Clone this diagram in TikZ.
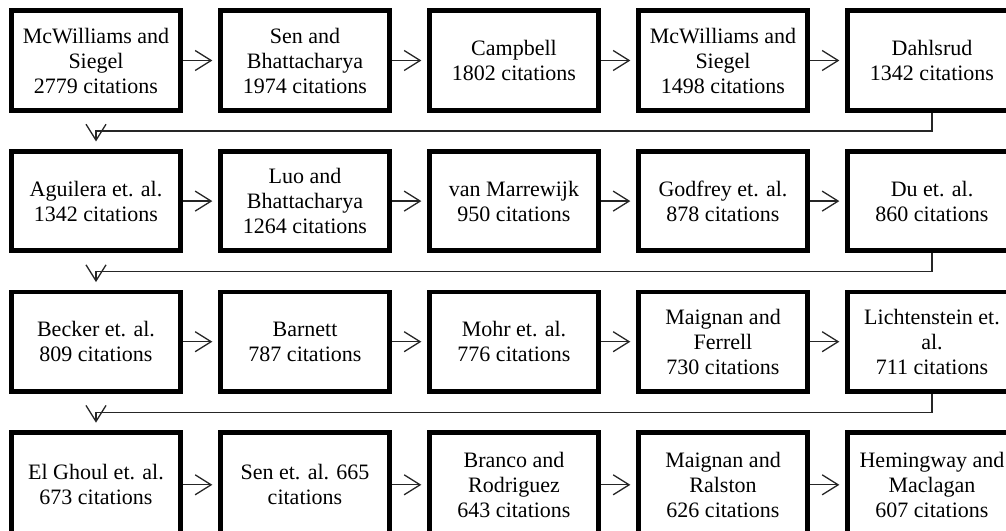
\documentclass[tikz,border=0pt]{standalone}
\usepackage{fontspec}
\setmainfont{Liberation Serif}
\usetikzlibrary{arrows.meta}
\begin{document}
\begin{tikzpicture}[x=1pt,y=1pt,
  paper/.style={draw=black, line width=4.8pt, fill=white,
    minimum width=168.5pt, minimum height=99.5pt, inner sep=2pt,
    align=center, font=\fontsize{22}{25}\selectfont},
  tallpaper/.style={paper, minimum height=104.5pt},
  link/.style={draw=black!85, line width=1.3pt,
    -{Straight Barb[length=16pt,width=20pt]}},
  flow/.style={link, shorten >=6pt},
  wrap/.style={link}
]
\useasboundingbox (0,0) rectangle (1006,-530);
\clip (0,0) rectangle (1006,-530);

% four rows of five papers, ranked by citations
\foreach \r/\y in {1/-60.5, 2/-201.1, 3/-341.7, 4/-484.8} {
  \foreach \c in {1,...,5} {
    \coordinate (p\r\c) at ({96+209*(\c-1)}, \y);
  }
}

\node[paper] (r1c1) at (p11) {McWilliams and\\Siegel\\2779 citations};
\node[paper] (r1c2) at (p12) {Sen and\\Bhattacharya\\1974 citations};
\node[paper] (r1c3) at (p13) {Campbell\\1802 citations};
\node[paper] (r1c4) at (p14) {McWilliams and\\Siegel\\1498 citations};
\node[paper] (r1c5) at (p15) {Dahlsrud\\1342 citations};

\node[paper] (r2c1) at (p21) {Aguilera et. al.\\1342 citations};
\node[paper] (r2c2) at (p22) {Luo and\\Bhattacharya\\1264 citations};
\node[paper] (r2c3) at (p23) {van Marrewijk\\950 citations};
\node[paper] (r2c4) at (p24) {Godfrey et. al.\\878 citations};
\node[paper] (r2c5) at (p25) {Du et. al.\\860 citations};

\node[paper] (r3c1) at (p31) {Becker et. al.\\809 citations};
\node[paper] (r3c2) at (p32) {Barnett\\787 citations};
\node[paper] (r3c3) at (p33) {Mohr et. al.\\776 citations};
\node[paper] (r3c4) at (p34) {Maignan and\\Ferrell\\730 citations};
\node[paper] (r3c5) at (p35) {Lichtenstein et.\\al.\\711 citations};

\node[tallpaper] (r4c1) at (p41) {El Ghoul et. al.\\673 citations};
\node[tallpaper] (r4c2) at (p42) {Sen et. al. 665\\citations};
\node[tallpaper] (r4c3) at (p43) {Branco and\\Rodriguez\\643 citations};
\node[tallpaper] (r4c4) at (p44) {Maignan and\\Ralston\\626 citations};
\node[tallpaper] (r4c5) at (p45) {Hemingway and\\Maclagan\\607 citations};

% arrows along each row
\foreach \r in {1,...,4} {
  \foreach \c [evaluate=\c as \n using int(\c+1)] in {1,...,4} {
    \draw[flow] (r\r c\c.east) -- (r\r c\n.west);
  }
}

% wrap-around from the end of one row to the start of the next
\foreach \r [evaluate=\r as \n using int(\r+1)] in {1,2,3} {
  \draw[wrap] (r\r c5.south) -- ++(0,-18.3) -| ([yshift=7.5pt]r\n c1.north);
}
\end{tikzpicture}
\end{document}
